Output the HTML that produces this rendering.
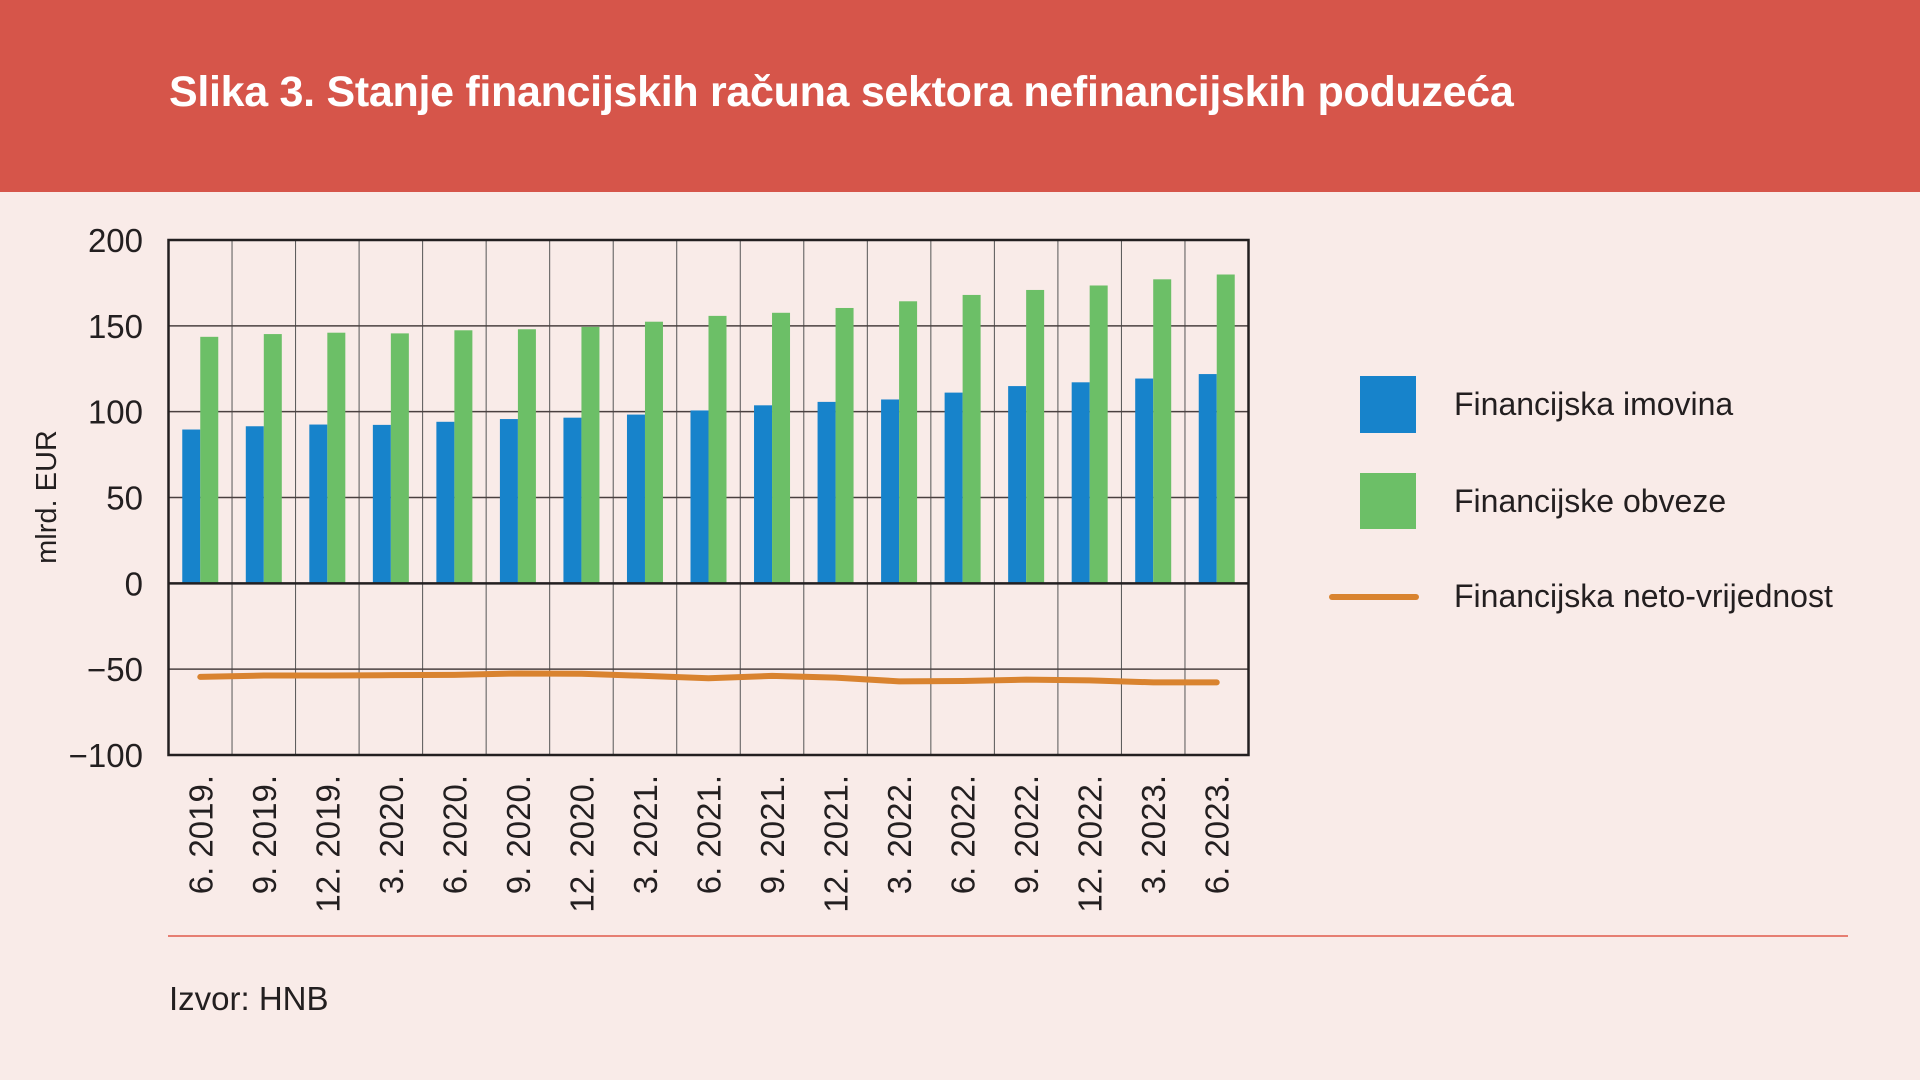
<!DOCTYPE html>
<html><head><meta charset="utf-8">
<style>
html,body{margin:0;padding:0;}
body{width:1920px;height:1080px;background:#f9ebe8;position:relative;overflow:hidden;font-family:"Liberation Sans",sans-serif;}
#hdr{position:absolute;left:0;top:0;width:1920px;height:192px;background:#d6554a;}
#title{position:absolute;left:169px;top:68px;font-size:43px;font-weight:bold;color:#fff;white-space:nowrap;letter-spacing:-0.3px;}
svg{position:absolute;left:0;top:0;}
.nar{font-family:"Liberation Sans Narrow","Liberation Sans",sans-serif;}
</style></head>
<body>
<div id="hdr"></div>
<div id="title">Slika 3. Stanje financijskih računa sektora nefinancijskih poduzeća</div>
<svg id="chart" width="1920" height="1080"></svg>
<script>
const categories=["6. 2019.","9. 2019.","12. 2019.","3. 2020.","6. 2020.","9. 2020.","12. 2020.","3. 2021.","6. 2021.","9. 2021.","12. 2021.","3. 2022.","6. 2022.","9. 2022.","12. 2022.","3. 2023.","6. 2023."];
const assets=[89.6,91.5,92.5,92.3,94.1,95.7,96.5,98.3,100.7,103.7,105.7,107.1,111.1,114.9,117.1,119.3,121.9];
const liabilities=[143.6,145.2,146,145.6,147.4,148,149.4,152.4,155.8,157.6,160.4,164.3,168,170.9,173.5,177.1,179.9];
const netWorth=[-54.5,-53.7,-53.7,-53.5,-53.3,-52.5,-52.7,-53.9,-55.3,-53.9,-54.9,-57.1,-56.9,-56.1,-56.5,-57.7,-57.7];
const yTicks=[200,150,100,50,0,-50,-100];
const yTickLabels=["200","150","100","50","0","\u221250","\u2212100"];

const NS="http://www.w3.org/2000/svg";
const svg=document.getElementById('chart');
const L=168.5,R=1248.5,T=240,B=755,yMin=-100,yMax=200;
const n=categories.length,cw=(R-L)/n;
function y(v){return B-(v-yMin)/(yMax-yMin)*(B-T);}
function x(i){return L+i*cw;}
function mk(tag,attrs){const e=document.createElementNS(NS,tag);for(const k in attrs)e.setAttribute(k,attrs[k]);svg.appendChild(e);return e;}

// vertical gridlines
for(let i=1;i<n;i++){
  const g=mk('line',{x1:x(i),x2:x(i),y1:T,y2:B,stroke:'#555',"stroke-width":1});
  
  
}
// horizontal gridlines and tick labels
yTicks.forEach((t,k)=>{
  if(t!==yMax&&t!==yMin&&t!==0){
    const g=mk('line',{x1:L,x2:R,y1:y(t),y2:y(t),stroke:'#4a4040',"stroke-width":1.5});
    
    
  }
  const tx=mk('text',{x:143,y:y(t)+12,"text-anchor":"end","font-size":33,fill:'#231f20',class:'nar'});
  tx.textContent=yTickLabels[k];
  
  
});
// bars
const bw=18;
categories.forEach((c,i)=>{
  const cx=x(i)+cw/2;
  const b1=mk('rect',{x:cx-bw,y:y(assets[i]),width:bw,height:y(0)-y(assets[i]),fill:'#1783cb'});
  
  
  const b2=mk('rect',{x:cx,y:y(liabilities[i]),width:bw,height:y(0)-y(liabilities[i]),fill:'#6cbf67'});
  
  
  const tl=mk('text',{transform:`translate(${cx+12},775) rotate(-90)`,"text-anchor":"end","font-size":33,fill:'#231f20',class:'nar'});
  tl.textContent=c;
  
  
});
// line
const pts=netWorth.map((v,i)=>`${x(i)+cw/2},${y(v)}`).join(' ');
const ln=mk('polyline',{points:pts,fill:'none',stroke:'#d9832f',"stroke-width":6,"stroke-linecap":"round","stroke-linejoin":"round"});


// zero line and frame
const z=mk('line',{x1:L,x2:R,y1:y(0),y2:y(0),stroke:'#231f20',"stroke-width":2.5});


const fr=mk('rect',{x:L,y:T,width:R-L,height:B-T,fill:'none',stroke:'#231f20',"stroke-width":2.5});


// axis title
const at=mk('text',{transform:'translate(56,497) rotate(-90)',"text-anchor":"middle","font-size":29,fill:'#231f20',class:'nar'});
at.textContent='mlrd. EUR';


// legend
const lg1=mk('rect',{x:1360,y:376,width:56,height:57,fill:'#1783cb'});


const lg2=mk('rect',{x:1360,y:473,width:56,height:56,fill:'#6cbf67'});


const lg3=mk('line',{x1:1332,x2:1416,y1:597,y2:597,stroke:'#d9832f',"stroke-width":6,"stroke-linecap":"round"});


[["Financijska imovina",415,'legend-entry-imovina'],["Financijske obveze",512,'legend-entry-obveze'],["Financijska neto-vrijednost",607,'legend-entry-neto']].forEach(a=>{
  const t=mk('text',{x:1454,y:a[1],"font-size":32,fill:'#231f20',class:'nar'});
  t.textContent=a[0];
  
  
});
// separator and source
const sep=mk('line',{x1:168,x2:1848,y1:936,y2:936,stroke:'#e05a4a',"stroke-width":1.5});


const src=mk('text',{x:169,y:1010,"font-size":33,fill:'#231f20'});
src.textContent='Izvor: HNB';


</script>
</body></html>
